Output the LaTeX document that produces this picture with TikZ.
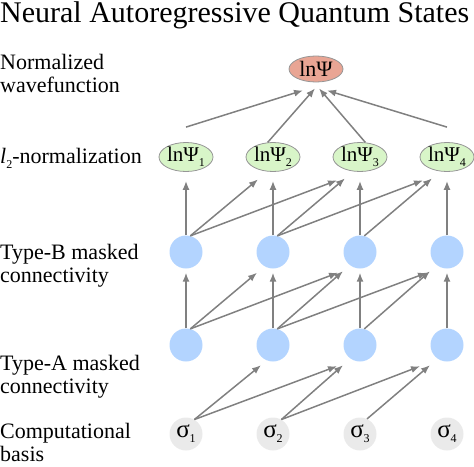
\documentclass[tikz,border=0pt]{standalone}
\usepackage{fontspec}
\setmainfont{Liberation Serif}
\usepackage{tikz}
\usetikzlibrary{arrows.meta,shapes,positioning}
\usepackage{xcolor}
\definecolor{nqsgray}{RGB}{128,128,128}
\definecolor{nqsedge}{RGB}{150,150,150}
\definecolor{nqssalmon}{RGB}{233,165,148}
\definecolor{nqsgreen}{RGB}{216,245,200}
\definecolor{nqsblue}{RGB}{179,212,255}
\definecolor{nqsspin}{RGB}{234,234,234}
\tikzstyle{arrow} = [line width=1.5pt,-{Latex[length=9pt,width=7pt]},color=nqsgray]
\tikzstyle{unit} = [circle, fill=nqsblue, minimum size=33pt, inner sep=0pt]
\tikzstyle{spin} = [circle, fill=nqsspin, minimum size=33pt, inner sep=0pt, font=\fontsize{25}{25}\selectfont]
\tikzstyle{psi} = [ellipse, draw=nqsedge, line width=0.8pt, fill=nqsgreen, minimum width=54pt, minimum height=29pt, inner sep=0pt, font=\fontsize{21}{21}\selectfont]
\tikzstyle{layer} = [inner sep=0pt, align=left, font=\fontsize{22}{23}\selectfont]
\newcommand{\idx}[1]{\raisebox{-5pt}{\fontsize{12}{12}\selectfont #1}}

\begin{document}
\begin{tikzpicture}[x=1pt, y=-1pt]
\useasboundingbox (0,0) rectangle (474,466);

% Title
\node[inner sep=0pt, anchor=base west, font=\fontsize{30}{30}\selectfont] (title) at (0,22) {Neural Autoregressive Quantum States};

% Layer labels
\node[layer, anchor=west] (lwave) at (0,73.5) {Normalized\\wavefunction};
\node[layer, anchor=base west] (lnorm) at (0,163) {\textit{l}\idx{2}-normalization};
\node[layer, anchor=west] (ltypeb) at (0,265.5) {Type-B masked\\connectivity};
\node[layer, anchor=west] (ltypea) at (0,376.5) {Type-A masked\\connectivity};
\node[layer, anchor=west] (lbasis) at (0,442) {Computational\\basis};

% Output
\node[ellipse, draw=nqsedge, line width=0.8pt, fill=nqssalmon, minimum width=54pt, minimum height=26pt, inner sep=0pt, font=\fontsize{22}{22}\selectfont] (top) at (316,69) {lnΨ};

% Normalization
\node[psi] (g1) at (186,157) {lnΨ\idx{1}};
\node[psi] (g2) at (273,157) {lnΨ\idx{2}};
\node[psi] (g3) at (360,157) {lnΨ\idx{3}};
\node[psi] (g4) at (447,157) {lnΨ\idx{4}};

% Type-B units
\node[unit] (b1) at (186,252) {};
\node[unit] (b2) at (273,252) {};
\node[unit] (b3) at (360,252) {};
\node[unit] (b4) at (447,252) {};

% Type-A units
\node[unit] (a1) at (186,345) {};
\node[unit] (a2) at (273,345) {};
\node[unit] (a3) at (360,345) {};
\node[unit] (a4) at (447,345) {};

% Spins
\node[spin] (s1) at (186,434) {σ\idx{1}};
\node[spin] (s2) at (273,434) {σ\idx{2}};
\node[spin] (s3) at (360,434) {σ\idx{3}};
\node[spin] (s4) at (447,434) {σ\idx{4}};

% Connections - Type-A
\draw[arrow] (s1.60) -- ([xshift=-12pt,yshift=-3.5pt]a2.south);
\draw[arrow] (s1.60) -- ([xshift=-23pt,yshift=-4.5pt]a3.south);
\draw[arrow] (s2.60) -- ([xshift=-17pt,yshift=-3.5pt]a3.south);
\draw[arrow] (s2.60) -- ([xshift=-27pt,yshift=-4.5pt]a4.south);
\draw[arrow] (s3.65) -- ([xshift=-17pt,yshift=-3.5pt]a4.south);

% Connections - Type-B
\draw[arrow, shorten >=4pt] (a1.north) -- (b1.south);
\draw[arrow, shorten >=4pt] (a2.north) -- (b2.south);
\draw[arrow, shorten >=4pt] (a3.north) -- (b3.south);
\draw[arrow, shorten >=4pt] (a4.north) -- (b4.south);
\draw[arrow] (a1.75) -- ([xshift=-16pt,yshift=-4pt]b2.south);
\draw[arrow] (a1.75) -- ([xshift=-22pt,yshift=-4pt]b3.south);
\draw[arrow] (a2.75) -- ([xshift=-17pt,yshift=-2.5pt]b3.south);
\draw[arrow] (a2.75) -- ([xshift=-20pt,yshift=-4pt]b4.south);
\draw[arrow] (a3.75) -- ([xshift=-17pt,yshift=-2.5pt]b4.south);

% Connections - normalization
\draw[arrow, shorten >=9pt] (b1.north) -- (g1.south);
\draw[arrow, shorten >=9pt] (b2.north) -- (g2.south);
\draw[arrow, shorten >=9pt] (b3.north) -- (g3.south);
\draw[arrow, shorten >=9pt] (b4.north) -- (g4.south);
\draw[arrow] (b1.75) -- ([xshift=-15pt,yshift=-7.5pt]g2.south);
\draw[arrow] (b1.75) -- ([xshift=-23pt,yshift=-8.5pt]g3.south);
\draw[arrow] (b2.75) -- ([xshift=-15pt,yshift=-6.5pt]g3.south);
\draw[arrow] (b2.75) -- ([xshift=-24pt,yshift=-8.5pt]g4.south);
\draw[arrow] (b3.75) -- ([xshift=-15pt,yshift=-6.5pt]g4.south);

% Connections - output
\draw[arrow] ([yshift=15pt]g1.north) -- ([xshift=-13pt,yshift=-8pt]top.south);
\draw[arrow] (g2.110) -- ([xshift=-1pt,yshift=-6pt]top.south);
\draw[arrow] (g3.70) -- ([xshift=3pt,yshift=-6pt]top.south);
\draw[arrow] ([yshift=15pt]g4.north) -- ([xshift=11pt,yshift=-8pt]top.south);
\end{tikzpicture}
\end{document}
